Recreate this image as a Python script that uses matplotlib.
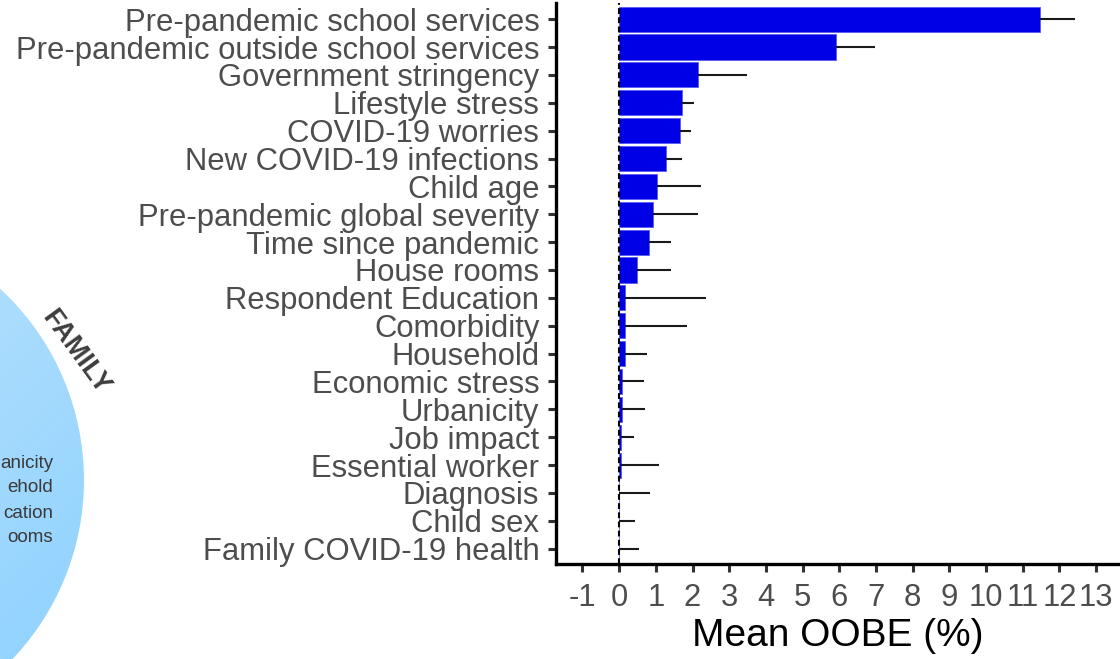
#import necessary modules
import matplotlib.pyplot as plt
import numpy as np
from matplotlib.patches import Circle

plt.rcParams['font.family'] = ['Liberation Sans', 'DejaVu Sans']

# predictors, top to bottom
labels = ['Pre-pandemic school services', 'Pre-pandemic outside school services',
          'Government stringency', 'Lifestyle stress', 'COVID-19 worries',
          'New COVID-19 infections', 'Child age', 'Pre-pandemic global severity',
          'Time since pandemic', 'House rooms', 'Respondent Education', 'Comorbidity',
          'Household', 'Economic stress', 'Urbanicity', 'Job impact', 'Essential worker',
          'Diagnosis', 'Child sex', 'Family COVID-19 health']
mean_oobe = [11.48, 5.90, 2.16, 1.71, 1.66, 1.28, 1.02, 0.92, 0.82, 0.48,
             0.16, 0.15, 0.15, 0.09, 0.09, 0.04, 0.04, 0.00, 0.00, 0.01]
sd_oobe = [0.95, 1.07, 1.33, 0.32, 0.30, 0.44, 1.21, 1.23, 0.60, 0.94,
           2.20, 1.69, 0.60, 0.59, 0.61, 0.36, 1.05, 0.85, 0.42, 0.53]
xticks = list(range(-1, 14))

# left over bit of the family bubble (only the word ends are visible)
bubble_words = ['anicity', 'ehold', 'cation', 'ooms']
bubble_title = 'FAMILY'

W, H = 1120, 659
fig = plt.figure(figsize=(W / 100, H / 100), dpi=100)

# background axes in pixel coords for the bubble
bg = fig.add_axes([0, 0, 1, 1], zorder=0)
bg.set_xlim(0, W)
bg.set_ylim(H, 0)
bg.axis('off')
cx, cy, r = -176, 480, 260
circ = Circle((cx, cy), r, transform=bg.transData, facecolor='none', edgecolor='none')
bg.add_patch(circ)
gx, gy = np.meshgrid(np.linspace(0, 1, 200), np.linspace(0, 1, 200))
t = (gx + gy) / 2
c0 = np.array([205, 234, 252]) / 255
c1 = np.array([138, 208, 255]) / 255
grad = c0[None, None, :] * (1 - t[..., None]) + c1[None, None, :] * t[..., None]
im = bg.imshow(grad, extent=(cx - r, cx + r, cy + r, cy - r), origin='upper',
               aspect='auto', zorder=1)
im.set_clip_path(circ)
bg.set_xlim(0, W)
bg.set_ylim(H, 0)
for i, w in enumerate(bubble_words):
    bg.text(53, 463 + i * 25, w, ha='right', va='center', fontsize=13.5, color='#3a3a3a', zorder=2)
bg.text(75, 352, bubble_title, ha='center', va='center', fontsize=19.5, fontweight='bold',
        rotation=-54, color='#3d3d3d', zorder=2)

# bar chart
ax = fig.add_axes([556 / W, 1 - 564 / H, (W - 556) / W, (564 - 3) / H], zorder=1)
ax.set_facecolor('none')
y = np.arange(len(labels))
ax.barh(y, mean_oobe, height=0.9, color='#0000E6', edgecolor='#5a5af2', linewidth=0.6, zorder=2)
ax.errorbar(mean_oobe, y, xerr=[np.zeros(len(sd_oobe)), sd_oobe], fmt='none',
            ecolor='#1a1a1a', elinewidth=1.5, capsize=0, zorder=3)
ax.axvline(0, color='black', lw=1.5, ls=(0, (2.8, 1.6)), zorder=4)

ax.set_ylim(len(labels) - 0.45, -0.58)
ax.set_xlim(-1.72, 13.65)
ax.set_yticks(y)
ax.set_yticklabels(labels)
ax.set_xticks(xticks)
ax.set_xticklabels([str(v) for v in xticks])
ax.tick_params(axis='both', labelsize=22.3, labelcolor='#4d4d4d', length=6, width=2.2,
               color='#333333')
ax.tick_params(axis='y', pad=6)
ax.tick_params(axis='x', pad=8)
ax.set_xlabel('Mean OOBE (%)', fontsize=28, color='black', labelpad=3)

for s in ['top', 'right']:
    ax.spines[s].set_visible(False)
for s in ['left', 'bottom']:
    ax.spines[s].set_linewidth(2.4)
    ax.spines[s].set_color('black')

fig.savefig('out.png', dpi=100)
